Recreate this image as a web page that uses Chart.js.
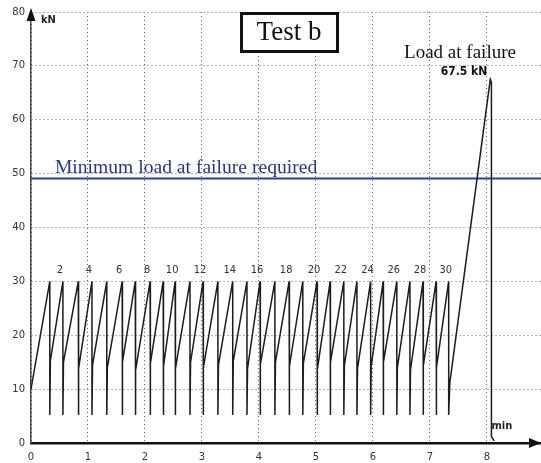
<!DOCTYPE html>
<html>
<head>
<meta charset="utf-8">
<script src="https://cdn.jsdelivr.net/npm/chart.js@4/dist/chart.umd.min.js"></script>
<style>
  html, body { margin: 0; padding: 0; background: #ffffff; }
  #wrap { width: 541px; height: 463px; }
</style>
</head>
<body>
<div id="wrap"><canvas id="c" width="541" height="463"></canvas></div>
<script>
// ---- Data ----
const xTicks = [0, 1, 2, 3, 4, 5, 6, 7, 8];            // time, min
const yTicks = [0, 10, 20, 30, 40, 50, 60, 70, 80];    // load, kN
const cycleNumbers = [1,2,3,4,5,6,7,8,9,10,11,12,13,14,15,16,17,18,19,20,21,22,23,24,25,26,27,28,29,30];
const peakTimes = [0.33,0.56,0.83,1.07,1.33,1.60,1.83,2.09,2.32,2.53,2.79,3.02,3.28,3.54,3.79,4.02,4.28,4.53,4.77,5.02,5.25,5.49,5.72,5.96,6.18,6.42,6.65,6.88,7.11,7.33];
const peakLoads = [30,30,30,30,30,30,30,30,30,30,30,30,30,30,30,30,30,30,30,30,30,30,30,30,30,30,30,30,30,30];
const troughLoads = [5.2,5.2,5.2,5.2,5.2,5.2,5.2,5.2,5.2,5.2,5.2,5.2,5.2,5.2,5.2,5.2,5.2,5.2,5.2,5.2,5.2,5.2,5.2,5.2,5.2,5.2,5.2,5.2,5.2,5.2];
const reloadLoads = [15.3,15.0,13.8,14.5,14.0,15.0,13.5,14.8,14.2,13.8,15.0,14.0,14.5,15.2,13.8,14.6,15.0,14.2,14.8,13.6,15.0,14.4,13.8,14.2,15.0,14.0,13.6,14.4,14.0,11.2];
const reloadDelay = [0.01,0.01,0.01,0.01,0.01,0.01,0.01,0.01,0.01,0.01,0.01,0.01,0.01,0.01,0.01,0.01,0.01,0.01,0.01,0.01,0.01,0.01,0.01,0.01,0.01,0.01,0.01,0.01,0.01,0.02];
const startPoint = { x: 0, y: 10 };
const failureTime = [8.06, 8.08, 8.08, 8.13];
const failureLoad = [67.5, 67.0, 1.2, 0.4];
const loadAtFailureLabel = "67.5 kN";
const minRequiredLoad = 49.1;
const minRequiredTimes = [0, 8.95];

// build the curve from the arrays
const curve = [startPoint];
for (let i = 0; i < cycleNumbers.length; i++) {
  curve.push({ x: peakTimes[i], y: peakLoads[i] });
  curve.push({ x: peakTimes[i], y: troughLoads[i] });
  curve.push({ x: peakTimes[i] + reloadDelay[i], y: reloadLoads[i] });
}
for (let i = 0; i < failureTime.length; i++) curve.push({ x: failureTime[i], y: failureLoad[i] });
const minLine = minRequiredTimes.map(t => ({ x: t, y: minRequiredLoad }));

const tickFont = { family: "DejaVu Sans", size: 10, weight: 'normal' };

const overlay = {
  id: 'overlay',
  afterDraw(chart) {
    const ctx = chart.ctx;
    const xs = chart.scales.x, ys = chart.scales.y;
    const ca = chart.chartArea;
    ctx.save();
    // arrows
    ctx.fillStyle = '#111';
    ctx.beginPath();
    ctx.moveTo(ca.left, ca.top - 4);
    ctx.lineTo(ca.left - 4.5, ca.top + 9);
    ctx.lineTo(ca.left + 4.5, ca.top + 9);
    ctx.closePath(); ctx.fill();
    ctx.beginPath();
    ctx.moveTo(ca.right, ca.bottom);
    ctx.lineTo(ca.right - 12, ca.bottom - 5);
    ctx.lineTo(ca.right - 12, ca.bottom + 5);
    ctx.closePath(); ctx.fill();

    // axis unit labels
    ctx.fillStyle = '#222';
    ctx.font = "bold 11px 'DejaVu Sans Condensed', 'DejaVu Sans'";
    ctx.textAlign = 'left'; ctx.textBaseline = 'middle';
    ctx.fillText('kN', ca.left + 10, ca.top + 8);
    ctx.fillText('min', xs.getPixelForValue(8.08), ca.bottom - 17);

    // cycle numbers
    ctx.font = "11px 'DejaVu Sans Condensed', 'DejaVu Sans'";
    ctx.fillStyle = '#333';
    ctx.textAlign = 'center'; ctx.textBaseline = 'middle';
    for (let i = 0; i < cycleNumbers.length; i++) {
      if (cycleNumbers[i] % 2 === 0) {
        ctx.fillText(String(cycleNumbers[i]), xs.getPixelForValue(peakTimes[i]) - 3, ys.getPixelForValue(peakLoads[i]) - 11);
      }
    }

    // minimum load text
    ctx.fillStyle = '#2b3585';
    ctx.font = "19.6px 'Liberation Serif'";
    ctx.textAlign = 'left'; ctx.textBaseline = 'alphabetic';
    ctx.fillText('Minimum load at failure required', xs.getPixelForValue(0.42), ys.getPixelForValue(minRequiredLoad) - 5);

    // Test b box
    ctx.fillStyle = '#ffffff';
    ctx.fillRect(241.5, 13.5, 96, 38);
    ctx.strokeStyle = '#111';
    ctx.lineWidth = 3;
    ctx.strokeRect(241.5, 13.5, 96, 38);
    ctx.fillStyle = '#111';
    ctx.font = "27px 'Liberation Serif'";
    ctx.textAlign = 'center'; ctx.textBaseline = 'middle';
    ctx.fillText('Test b', 289, 33);

    // Load at failure
    ctx.font = "19px 'Liberation Serif'";
    ctx.fillText('Load at failure', 460, 53);
    ctx.font = "bold 12px 'DejaVu Sans Condensed', 'DejaVu Sans'";
    ctx.fillText(loadAtFailureLabel, 464, 72);
    ctx.restore();
  }
};

new Chart(document.getElementById('c'), {
  type: 'line',
  data: {
    datasets: [
      { data: curve, borderColor: '#1c1c1c', borderWidth: 1.5, pointRadius: 0, tension: 0, fill: false },
      { data: minLine, borderColor: '#2e3f9f', borderWidth: 2, pointRadius: 0, tension: 0, fill: false }
    ]
  },
  options: {
    responsive: false,
    animation: false,
    devicePixelRatio: 1,
    layout: { padding: { left: 0, top: 11, right: 0, bottom: 0 } },
    plugins: { legend: { display: false }, tooltip: { enabled: false } },
    scales: {
      x: {
        type: 'linear', min: 0, max: 8.95,
        afterFit(s) { s.height = 20; },
        afterBuildTicks(s) { s.ticks = xTicks.map(v => ({ value: v })); },
        ticks: { includeBounds: false, font: tickFont, color: '#333', padding: 8, maxRotation: 0, autoSkip: false },
        grid: { color: '#666', lineWidth: 1, drawTicks: false },
        border: { display: true, color: '#111', width: 2.5, dash: [1, 3] }
      },
      y: {
        type: 'linear', min: 0, max: 80,
        afterFit(s) { s.width = 31; },
        afterBuildTicks(s) { s.ticks = yTicks.map(v => ({ value: v })); },
        ticks: { font: tickFont, color: '#333', padding: 6, autoSkip: false },
        grid: { color: '#666', lineWidth: 1, drawTicks: false },
        border: { display: true, color: '#444', width: 1.5, dash: [1, 3] }
      }
    }
  },
  plugins: [overlay]
});
</script>
</body>
</html>
